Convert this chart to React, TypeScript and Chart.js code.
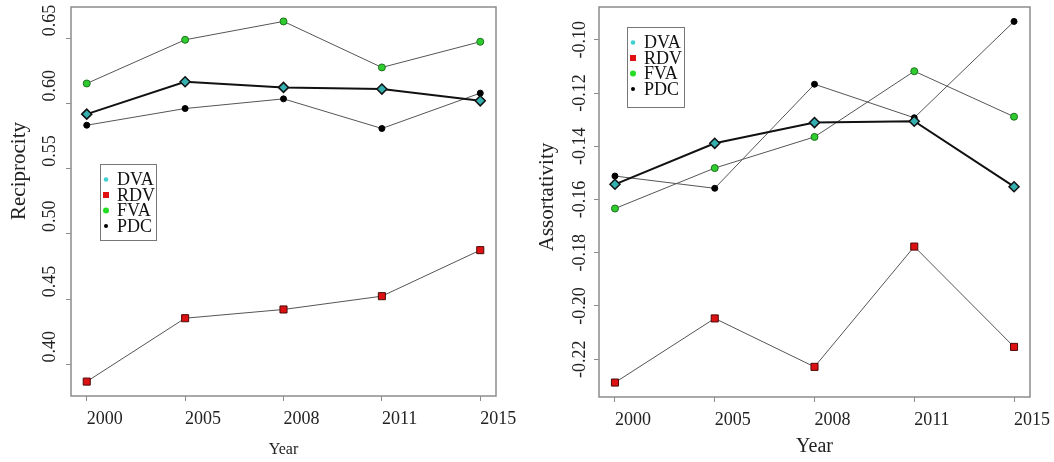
import React, { useEffect, useRef } from "react";
import { Chart, registerables } from "chart.js";

Chart.register(...registerables);

const FONT = '"Liberation Serif", "Times New Roman", serif';

// ---- data ----
const years = ["2000", "2005", "2008", "2011", "2015"];
const seriesNames = ["DVA", "RDV", "FVA", "PDC"];

const recipDVA = [0.5919, 0.6167, 0.6124, 0.6111, 0.6021];
const recipRDV = [0.3868, 0.4354, 0.4421, 0.4523, 0.4876];
const recipFVA = [0.6154, 0.6489, 0.663, 0.6277, 0.6474];
const recipPDC = [0.5834, 0.5962, 0.6036, 0.5809, 0.608];

const assortDVA = [-0.1543, -0.1389, -0.1311, -0.1306, -0.1552];
const assortRDV = [-0.2288, -0.2047, -0.2229, -0.1777, -0.2154];
const assortFVA = [-0.1634, -0.1482, -0.1365, -0.1118, -0.1289];
const assortPDC = [-0.1512, -0.1558, -0.1167, -0.1293, -0.0931];

const recipTicks = [0.4, 0.45, 0.5, 0.55, 0.6, 0.65];
const assortTicks = [-0.22, -0.2, -0.18, -0.16, -0.14, -0.12, -0.1];

// ---- styles ----
const seriesStyles = [
  { line: "#111111", lw: 2, ps: "rectRot", r: 5, fill: "#35b0b0", edge: "#111111", ew: 1.5 },
  { line: "#555555", lw: 1, ps: "rect", r: 5, fill: "#dd1111", edge: "#4a0a0a", ew: 1 },
  { line: "#555555", lw: 1, ps: "circle", r: 3.5, fill: "#2ecc2e", edge: "#1d6e1d", ew: 1 },
  { line: "#555555", lw: 1, ps: "circle", r: 3, fill: "#000000", edge: "#000000", ew: 1 },
];

function rRange(arrs: number[][]): [number, number] {
  const all = arrs.flat();
  const lo = Math.min(...all);
  const hi = Math.max(...all);
  const d = hi - lo;
  return [lo - 0.04 * d, hi + 0.04 * d];
}

type PanelCfg = {
  x: number;
  width: number;
  plot: { left: number; right: number; top: number; bottom: number };
  series: number[][];
  yTicks: number[];
  yTitle: string;
  xTitleSize: number;
  yLabelMode: "start" | "center";
  yLabelX: number;
  yTitlePos: { x: number; y: number };
  legendBox: { x: number; y: number; w: number; h: number };
};

function makePlugin(cfg: PanelCfg) {
  return {
    id: "frameAndText",
    afterDraw(chart: any) {
      const { ctx, chartArea: a } = chart;
      const ys = chart.scales.y;
      ctx.save();
      ctx.strokeStyle = "#8c8c8c";
      ctx.lineWidth = 1.5;
      ctx.strokeRect(a.left, a.top, a.right - a.left, a.bottom - a.top);

      // y tick labels (rotated)
      ctx.fillStyle = "#222";
      ctx.font = `18px ${FONT}`;
      ctx.textBaseline = "middle";
      for (const v of cfg.yTicks) {
        const py = ys.getPixelForValue(v);
        ctx.save();
        ctx.translate(cfg.yLabelX, cfg.yLabelMode === "start" ? py - 2 : py);
        ctx.rotate(-Math.PI / 2);
        ctx.textAlign = cfg.yLabelMode === "start" ? "left" : "center";
        ctx.fillText(v.toFixed(2), 0, 0);
        ctx.restore();
      }

      // y title
      ctx.save();
      ctx.font = `21px ${FONT}`;
      ctx.translate(cfg.yTitlePos.x, cfg.yTitlePos.y);
      ctx.rotate(-Math.PI / 2);
      ctx.textAlign = "center";
      ctx.textBaseline = "middle";
      ctx.fillText(cfg.yTitle, 0, 0);
      ctx.restore();

      // legend
      const b = cfg.legendBox;
      ctx.fillStyle = "#fff";
      ctx.fillRect(b.x, b.y, b.w, b.h);
      ctx.strokeStyle = "#777";
      ctx.lineWidth = 1;
      ctx.strokeRect(b.x + 0.5, b.y + 0.5, b.w, b.h);
      ctx.font = `18px ${FONT}`;
      ctx.textAlign = "left";
      ctx.textBaseline = "middle";
      seriesNames.forEach((name, i) => {
        const cy = b.y + 15.5 + i * 15.5;
        const mx = b.x + 6;
        if (i === 0) {
          ctx.fillStyle = "#3fd0d0";
          ctx.beginPath();
          ctx.arc(mx, cy, 2.3, 0, Math.PI * 2);
          ctx.fill();
        } else if (i === 1) {
          ctx.fillStyle = "#e01010";
          ctx.fillRect(mx - 3, cy - 3, 6, 6);
        } else if (i === 2) {
          ctx.fillStyle = "#22dd22";
          ctx.beginPath();
          ctx.arc(mx, cy, 3, 0, Math.PI * 2);
          ctx.fill();
        } else {
          ctx.fillStyle = "#000";
          ctx.beginPath();
          ctx.arc(mx, cy, 2, 0, Math.PI * 2);
          ctx.fill();
        }
        ctx.fillStyle = "#111";
        ctx.fillText(name, b.x + 17, cy + 1);
      });
      ctx.restore();
    },
  };
}

function Panel({ cfg }: { cfg: PanelCfg }) {
  const ref = useRef<HTMLCanvasElement>(null);
  useEffect(() => {
    const H = 462;
    const [yMin, yMax] = rRange(cfg.series);
    const n = years.length;
    const xMin = 1 - 0.04 * (n - 1);
    const xMax = n + 0.04 * (n - 1);
    const chart = new Chart(ref.current as HTMLCanvasElement, {
      type: "line",
      data: {
        datasets: cfg.series.map((vals, si) => {
          const s = seriesStyles[si];
          return {
            label: seriesNames[si],
            data: vals.map((v, i) => ({ x: i + 1, y: v })),
            borderColor: s.line,
            borderWidth: s.lw,
            pointStyle: s.ps as any,
            pointRadius: s.r,
            pointBackgroundColor: s.fill,
            pointBorderColor: s.edge,
            pointBorderWidth: s.ew,
            tension: 0,
            fill: false,
          };
        }),
      },
      options: {
        animation: false,
        responsive: false,
        devicePixelRatio: 1,
        layout: {
          padding: { top: cfg.plot.top, right: cfg.width - cfg.plot.right, left: 0, bottom: 0 },
        },
        plugins: { legend: { display: false }, tooltip: { enabled: false } },
        scales: {
          x: {
            type: "linear",
            min: xMin,
            max: xMax,
            afterBuildTicks: (s: any) => {
              s.ticks = years.map((_, i) => ({ value: i + 1 }));
            },
            afterFit: (s: any) => {
              s.height = H - cfg.plot.bottom;
              s.paddingLeft = 0;
              s.paddingRight = 0;
            },
            ticks: {
              callback: (_v: any, i: number) => years[i],
              align: "start",
              autoSkip: false,
              maxRotation: 0,
              minRotation: 0,
              padding: 7,
              color: "#222",
              font: { family: FONT, size: 18 },
            },
            grid: {
              display: true,
              drawOnChartArea: false,
              drawTicks: true,
              tickLength: 5,
              color: "#8c8c8c",
              lineWidth: 1,
            },
            border: { display: false },
            title: {
              display: true,
              text: "Year",
              color: "#222",
              font: { family: FONT, size: cfg.xTitleSize },
              padding: { top: 0, bottom: 3 },
            },
          },
          y: {
            type: "linear",
            min: yMin,
            max: yMax,
            afterBuildTicks: (s: any) => {
              s.ticks = cfg.yTicks.map((v) => ({ value: v }));
            },
            afterFit: (s: any) => {
              s.width = cfg.plot.left;
              s.paddingTop = 0;
              s.paddingBottom = 0;
            },
            ticks: { display: false },
            grid: {
              display: true,
              drawOnChartArea: false,
              drawTicks: true,
              tickLength: 5,
              color: "#8c8c8c",
              lineWidth: 1,
            },
            border: { display: false },
          },
        },
      } as any,
      plugins: [makePlugin(cfg)],
    });
    return () => chart.destroy();
  }, []);
  return (
    <canvas
      ref={ref}
      width={cfg.width}
      height={462}
      style={{ position: "absolute", left: cfg.x, top: 0, width: cfg.width, height: 462 }}
    />
  );
}

const leftCfg: PanelCfg = {
  x: 0,
  width: 530,
  plot: { left: 71, right: 496, top: 7, bottom: 396 },
  series: [recipDVA, recipRDV, recipFVA, recipPDC],
  yTicks: recipTicks,
  yTitle: "Reciprocity",
  xTitleSize: 16,
  yLabelMode: "start",
  yLabelX: 50,
  yTitlePos: { x: 19, y: 171 },
  legendBox: { x: 100, y: 164, w: 56, h: 76 },
};

const rightCfg: PanelCfg = {
  x: 530,
  width: 524,
  plot: { left: 69, right: 500, top: 7, bottom: 397 },
  series: [assortDVA, assortRDV, assortFVA, assortPDC],
  yTicks: assortTicks,
  yTitle: "Assortativity",
  xTitleSize: 20,
  yLabelMode: "center",
  yLabelX: 50,
  yTitlePos: { x: 17, y: 197 },
  legendBox: { x: 97, y: 27, w: 57, h: 80 },
};

export default function App() {
  return (
    <div style={{ position: "fixed", left: 0, top: 0, width: 1054, height: 462, background: "#fff" }}>
      <Panel cfg={leftCfg} />
      <Panel cfg={rightCfg} />
    </div>
  );
}
